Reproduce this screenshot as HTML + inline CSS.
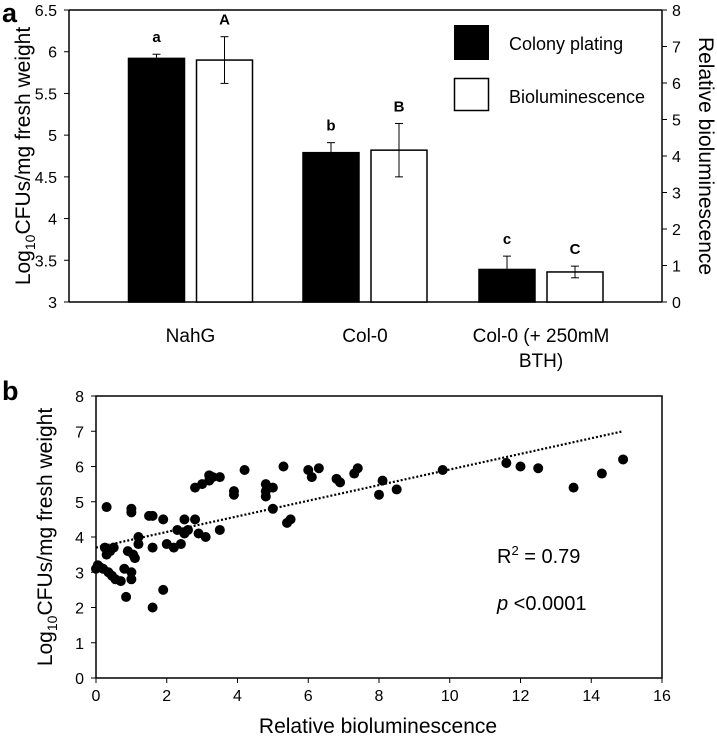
<!DOCTYPE html>
<html><head><meta charset="utf-8"><style>
body{margin:0;background:#fff;}
svg{display:block;font-family:"Liberation Sans",Arial,sans-serif;}
</style></head><body>
<svg id="c" width="717" height="741" viewBox="0 0 717 741"></svg>
<script>
const groups=["NahG","Col-0","Col-0 (+ 250mM|BTH)"];
const colonyVals=[5.92,4.79,3.39];
const colonyErr=[0.05,0.12,0.16];
const bioVals=[5.9,4.82,3.36];
const bioErr=[0.28,0.32,0.07];
const colonyLetters=["a","b","c"];
const bioLetters=["A","B","C"];
const leftTicks=[3,3.5,4,4.5,5,5.5,6,6.5];
const rightTicks=[0,1,2,3,4,5,6,7,8];
const scX=[0,0.05,0.1,0.2,0.25,0.3,0.3,0.4,0.35,0.45,0.5,0.55,0.7,0.8,0.85,0.9,1.0,1.0,1.0,1.0,1.05,1.1,1.2,1.2,1.5,1.6,1.6,1.6,1.9,1.9,2.0,2.2,2.3,2.4,2.5,2.5,2.6,2.8,2.8,2.9,3.0,3.1,3.2,3.2,3.3,3.5,3.5,3.9,3.9,4.2,4.8,4.8,4.8,5.0,5.0,5.3,5.4,5.5,6.0,6.1,6.3,6.8,6.9,7.3,7.4,8.0,8.1,8.5,9.8,11.6,12.0,12.5,13.5,14.3,14.9];
const scY=[3.1,3.2,3.15,3.1,3.7,3.5,4.85,3.6,3.0,2.9,3.7,2.8,2.75,3.1,2.3,3.6,2.8,3.0,4.7,4.8,3.5,3.4,3.8,4.0,4.6,4.6,3.7,2.0,2.5,4.5,3.8,3.7,4.2,3.8,4.1,4.5,4.2,5.4,4.5,4.1,5.5,4.0,5.6,5.75,5.7,4.2,5.7,5.3,5.2,5.9,5.5,5.15,5.3,4.8,5.4,6.0,4.4,4.5,5.9,5.7,5.95,5.65,5.55,5.8,5.95,5.2,5.6,5.35,5.9,6.1,6.0,5.95,5.4,5.8,6.2];
const trendX=[0,14.9];
const trendY=[3.7,7.0];
const bxTicks=[0,2,4,6,8,10,12,14,16];
const byTicks=[0,1,2,3,4,5,6,7,8];

const svg=document.getElementById('c');const NS='http://www.w3.org/2000/svg';
function mk(t,a,p){const e=document.createElementNS(NS,t);for(const k in a)e.setAttribute(k,a[k]);(p||svg).appendChild(e);return e;}
function tx(x,y,s,o){const e=mk('text',Object.assign({x:x,y:y,'font-size':16,fill:'#000'},o||{}));e.textContent=s;return e;}

// ---- panel a
const ay=v=>302-(v-3)/3.5*292;
const ayR=v=>302-v/8*292;
const centers=[190.5,365,541];
let e;
e=mk('line',{x1:69,y1:302,x2:662,y2:302,stroke:'#000','stroke-width':1.5});

e=mk('line',{x1:69,y1:10,x2:662,y2:10,stroke:'#000','stroke-width':1.5});

e=mk('line',{x1:69,y1:10,x2:69,y2:302,stroke:'#000','stroke-width':1.5});

e=mk('line',{x1:662,y1:10,x2:662,y2:302,stroke:'#000','stroke-width':1.5});

leftTicks.forEach(v=>{mk('line',{x1:64,y1:ay(v),x2:69,y2:ay(v),stroke:'#000'});
 e=tx(57,ay(v)+6,String(v),{'text-anchor':'end'});
 });
rightTicks.forEach(v=>{mk('line',{x1:662,y1:ayR(v),x2:667,y2:ayR(v),stroke:'#000'});
 e=tx(672,ayR(v)+6,String(v));
 });
groups.forEach((g,i)=>{
 const c=centers[i];
 const b1=mk('rect',{x:c-62,y:ay(colonyVals[i]),width:56,height:302-ay(colonyVals[i]),fill:'#000',stroke:'#000','stroke-width':1.5});
 
 const b2=mk('rect',{x:c+6,y:ay(bioVals[i]),width:56,height:302-ay(bioVals[i]),fill:'#fff',stroke:'#000','stroke-width':1.5});
 
 const x1=c-34,x2=c+34;
 mk('line',{x1:x1,y1:ay(colonyVals[i]),x2:x1,y2:ay(colonyVals[i]+colonyErr[i]),stroke:'#000'});
 mk('line',{x1:x1-4,y1:ay(colonyVals[i]+colonyErr[i]),x2:x1+4,y2:ay(colonyVals[i]+colonyErr[i]),stroke:'#000'});
 mk('line',{x1:x2,y1:ay(bioVals[i]-bioErr[i]),x2:x2,y2:ay(bioVals[i]+bioErr[i]),stroke:'#000'});
 mk('line',{x1:x2-4,y1:ay(bioVals[i]+bioErr[i]),x2:x2+4,y2:ay(bioVals[i]+bioErr[i]),stroke:'#000'});
 mk('line',{x1:x2-4,y1:ay(bioVals[i]-bioErr[i]),x2:x2+4,y2:ay(bioVals[i]-bioErr[i]),stroke:'#000'});
 e=tx(x1,ay(colonyVals[i]+colonyErr[i])-12,colonyLetters[i],{'text-anchor':'middle','font-weight':'bold','font-size':15});
 
 e=tx(x2,ay(bioVals[i]+bioErr[i])-12,bioLetters[i],{'text-anchor':'middle','font-weight':'bold','font-size':15});
 
 const parts=g.split('|');
 parts.forEach((p,j)=>{e=tx(c,342+j*25,p,{'text-anchor':'middle','font-size':19});
  });
});
e=mk('rect',{x:454,y:25,width:35,height:35,fill:'#000'});
e=mk('rect',{x:454.5,y:78.5,width:34,height:32,fill:'#fff',stroke:'#000','stroke-width':1.5});
e=tx(509,50,'Colony plating',{'font-size':18});
e=tx(509,103,'Bioluminescence',{'font-size':18});
e=tx(0,0,'',{'font-size':21,transform:'translate(30,156) rotate(-90)','text-anchor':'middle'});
e.innerHTML='Log<tspan font-size="14" dy="5">10</tspan><tspan dy="-5">CFUs/mg fresh weight</tspan>';

e=tx(0,0,'Relative bioluminescence',{'font-size':21,transform:'translate(699,156) rotate(90)','text-anchor':'middle'});

e=tx(2,22,'a',{'font-size':27,'font-weight':'bold'});

// ---- panel b
const bx=v=>96+v/16*566;
const by=v=>678-v/8*282;
e=mk('rect',{x:96,y:396,width:566,height:282,fill:'none',stroke:'#000','stroke-width':1.5});

bxTicks.forEach(v=>{mk('line',{x1:bx(v),y1:678,x2:bx(v),y2:683,stroke:'#000'});
 e=tx(bx(v),701,String(v),{'text-anchor':'middle'});});
byTicks.forEach(v=>{mk('line',{x1:91,y1:by(v),x2:96,y2:by(v),stroke:'#000'});
 e=tx(84,by(v)+6,String(v),{'text-anchor':'end'});});
e=mk('line',{x1:bx(trendX[0]),y1:by(trendY[0]),x2:bx(trendX[1]),y2:by(trendY[1]),stroke:'#000','stroke-width':2.2,'stroke-dasharray':'2,2'});

scX.forEach((x,i)=>{const d=mk('circle',{cx:bx(x),cy:by(scY[i]),r:5,fill:'#000'});
 });
e=tx(497,563,'',{'font-size':20});e.innerHTML='R<tspan font-size="13" dy="-8">2</tspan><tspan dy="8"> = 0.79</tspan>';

e=tx(497,610,'',{'font-size':20});e.innerHTML='<tspan font-style="italic">p</tspan> &lt;0.0001';

e=tx(378,733,'Relative bioluminescence',{'font-size':21,'text-anchor':'middle'});

e=tx(0,0,'',{'font-size':21,transform:'translate(52,537) rotate(-90)','text-anchor':'middle'});
e.innerHTML='Log<tspan font-size="14" dy="5">10</tspan><tspan dy="-5">CFUs/mg fresh weight</tspan>';

e=tx(2,400,'b',{'font-size':27,'font-weight':'bold'});
</script>
</body></html>
